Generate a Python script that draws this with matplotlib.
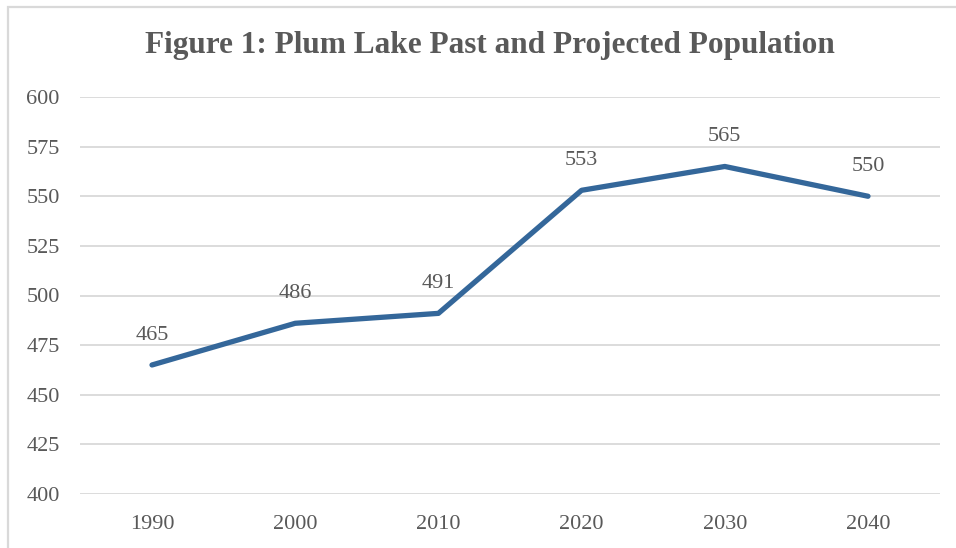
import matplotlib
matplotlib.use("Agg")
import matplotlib.pyplot as plt
from matplotlib.patches import Rectangle

years = ["1990", "2000", "2010", "2020", "2030", "2040"]
population = [465, 486, 491, 553, 565, 550]
y_ticks = [400, 425, 450, 475, 500, 525, 550, 575, 600]
title = "Figure 1: Plum Lake Past and Projected Population"

W, H = 956, 548
fig = plt.figure(figsize=(W / 100, H / 100), dpi=100)
plt.rcParams['font.family'] = ['Liberation Serif', 'DejaVu Serif']
text_color = "#595959"
line_color = "#34679A"

# outer border
fig.patches.append(Rectangle((8 / W, -0.1), 1.2, 1 - 7 / H + 0.1, transform=fig.transFigure,
                             fill=False, edgecolor="#D9D9D9", linewidth=1.6))

left, right = 80.4 / W, 939.6 / W
bottom, top = 1 - 494 / H, 1 - 97 / H
ax = fig.add_axes([left, bottom, right - left, top - bottom])

x = list(range(len(years)))
ax.plot(x, population, color=line_color, linewidth=3.8, solid_capstyle="round", solid_joinstyle="round", zorder=3)
for xi, v in zip(x, population):
    ax.annotate(str(v), (xi, v), xytext=(0, 14.5), textcoords="offset points",
                ha="center", va="bottom", fontsize=16, color=text_color)

ax.set_xlim(-0.5, len(years) - 0.5)
ax.set_ylim(400, 600)
ax.set_xticks(x)
ax.set_xticklabels(years)
ax.set_yticks(y_ticks)
ax.grid(axis="y", color="#D9D9D9", linewidth=1.3)
ax.set_axisbelow(True)
for s in ax.spines.values():
    s.set_visible(False)
ax.tick_params(length=0, labelsize=16, colors=text_color)
ax.tick_params(axis="y", pad=15)
ax.tick_params(axis="x", pad=15)

fig.text(0.5 + 12 / W, 1 - 46 / H, title, ha="center", va="center", fontsize=22.5,
         fontweight="bold", color=text_color)

fig.savefig("out.png", dpi=100)
